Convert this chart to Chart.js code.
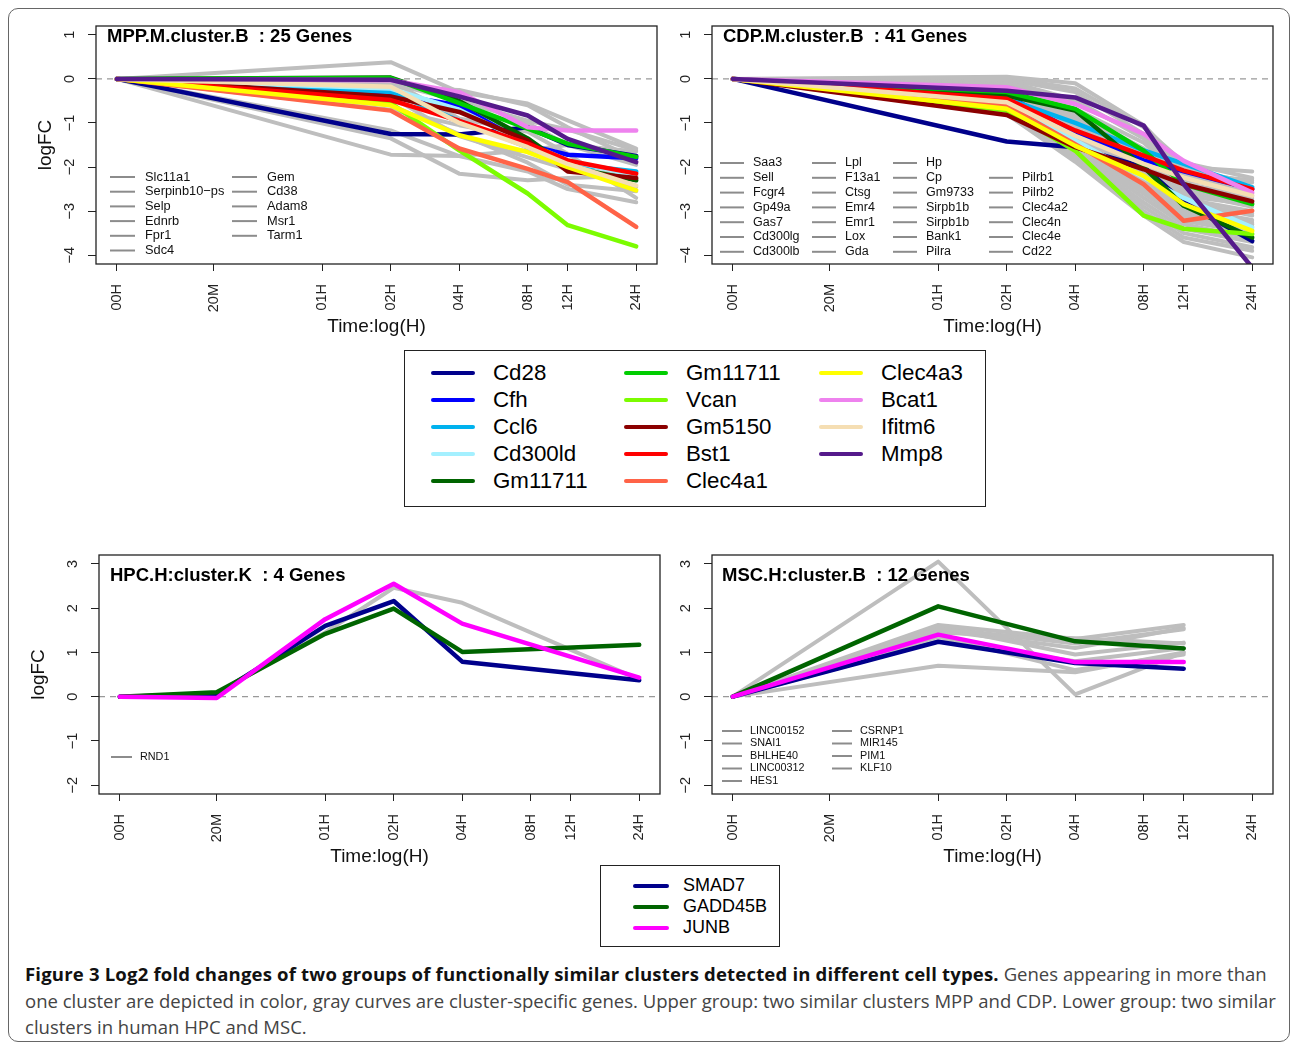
<!DOCTYPE html>
<html>
<head>
<meta charset="utf-8">
<script src="https://cdn.jsdelivr.net/npm/chart.js@4.4.1/dist/chart.umd.min.js"></script>
<style>
  body { margin: 0; background: #fff; width: 1292px; height: 1045px; position: relative; overflow: hidden;
         font-family: "Liberation Sans", Arial, sans-serif; }
  .frame { position: absolute; left: 8px; top: 8px; width: 1280px; height: 1032px; border: 1.5px solid #666; border-radius: 10px; }
  .panel { position: absolute; }
  .key { position: absolute; border: 1.5px solid #222; background: #fff; z-index: 2; }
  .key .item { position: absolute; white-space: nowrap; }
  .key .swatch { position: absolute; border-radius: 2px; }
  .caption { position: absolute; left: 25px; top: 961px; font-family: "Open Sans", sans-serif; font-size: 18.55px;
             line-height: 26.5px; color: #444; white-space: nowrap; }
  .caption b { color: #111; letter-spacing: 0.18px; }
</style>
</head>
<body>
<div class="frame"></div>
<div class="panel" style="left:20px;top:16px;width:647px;height:324px"><canvas id="mpp"></canvas></div>
<div class="panel" style="left:636px;top:16px;width:647px;height:324px"><canvas id="cdp"></canvas></div>
<div class="panel" style="left:23px;top:545px;width:647px;height:325px"><canvas id="hpc"></canvas></div>
<div class="panel" style="left:636px;top:545px;width:647px;height:325px"><canvas id="msc"></canvas></div>
<div class="key" id="mouseKey" style="left:404px;top:350px;width:580px;height:155px"></div>
<div class="key" id="humanKey" style="left:600px;top:865px;width:178px;height:80px"></div>
<div class="caption"><b>Figure 3 Log2 fold changes of two groups of functionally similar clusters detected in different cell types.</b> Genes appearing in more than<br>one cluster are depicted in color, gray curves are cluster-specific genes. Upper group: two similar clusters MPP and CDP. Lower group: two similar<br>clusters in human HPC and MSC.</div>

<script>
// time points (label -> hours, 00H is put at 1/8 h on the log axis)
var hourLabels = ['00H', '20M', '01H', '02H', '04H', '08H', '12H', '24H'];
var hourValues = [0.125, 1 / 3, 1, 2, 4, 8, 12, 24];
var mouseTimes = ['00H', '02H', '04H', '08H', '12H', '24H'];
var hpcTimes = ['00H', '20M', '01H', '02H', '04H', '24H'];
var mscTimes = ['00H', '01H', '04H', '12H'];
var mouseYTicks = [-4, -3, -2, -1, 0, 1];
var humanYTicks = [-2, -1, 0, 1, 2, 3];

// genes shared by the two mouse clusters
var sharedGenes = ['Cd28', 'Cfh', 'Ccl6', 'Cd300ld', 'Gm11711', 'Gm11711', 'Vcan', 'Gm5150', 'Bst1', 'Clec4a1', 'Clec4a3', 'Bcat1', 'Ifitm6', 'Mmp8'];
var mppShared = [
  [0, -1.25, -1.26, -1.1, -1.5, -1.75],
  [0, -0.35, -0.6, -1.5, -1.72, -1.8],
  [0, -0.3, -0.95, -1.55, -1.93, -2.1],
  [0, -0.22, -0.7, -1.47, -1.85, -2.2],
  [0, 0.03, -0.5, -1.35, -2.0, -2.3],
  [0, 0.02, -0.55, -1.13, -1.47, -1.77],
  [0, -0.55, -1.62, -2.6, -3.32, -3.8],
  [0, -0.4, -0.75, -1.4, -2.1, -2.25],
  [0, -0.48, -0.95, -1.47, -1.85, -2.15],
  [0, -0.72, -1.58, -2.04, -2.34, -3.36],
  [0, -0.6, -1.28, -1.66, -2.0, -2.53],
  [0, -0.03, -0.3, -1.1, -1.17, -1.17],
  [0, -0.18, -1.0, -1.55, -1.93, -2.42],
  [0, -0.02, -0.4, -0.83, -1.36, -1.89]
];
var cdpShared = [
  [0, -1.42, -1.55, -2.0, -2.8, -3.68],
  [0, -0.38, -1.2, -1.85, -2.1, -2.5],
  [0, -0.45, -1.0, -1.62, -1.93, -2.46],
  [0, -0.57, -1.4, -2.23, -2.7, -3.37],
  [0, -0.38, -0.72, -2.0, -2.88, -3.6],
  [0, -0.3, -0.68, -1.63, -2.39, -2.84],
  [0, -0.72, -1.63, -3.1, -3.4, -3.52],
  [0, -0.82, -1.55, -2.05, -2.39, -2.78],
  [0, -0.45, -1.17, -1.74, -2.08, -2.5],
  [0, -0.6, -1.48, -2.39, -3.22, -2.99],
  [0, -0.68, -1.52, -2.2, -2.84, -3.45],
  [0, -0.19, -0.57, -1.25, -1.86, -2.58],
  [0, -0.53, -1.29, -1.93, -2.24, -2.65],
  [0, -0.27, -0.42, -1.06, -2.39, -4.28]
];

// cluster specific (gray) genes
var mppGrayGenes = ['Slc11a1', 'Serpinb10\u2212ps', 'Selp', 'Ednrb', 'Fpr1', 'Sdc4', 'Gem', 'Cd38', 'Adam8', 'Msr1', 'Tarm1'];
var mppGray = [
  [0, 0.38, -0.3, -0.56, -0.94, -1.58],
  [0, -1.72, -1.75, -1.62, -1.5, -1.65],
  [0, -1.35, -2.15, -2.3, -2.25, -2.2],
  [0, -1.17, -1.75, -2.1, -2.5, -2.8],
  [0, -0.05, -0.9, -1.2, -1.7, -2.7],
  [0, -0.1, -0.5, -0.95, -1.15, -1.62],
  [0, -0.2, -0.25, -0.6, -1.1, -1.82],
  [0, -0.7, -1.05, -1.35, -1.95, -2.45],
  [0, -0.4, -1.3, -1.78, -2.05, -2.2],
  [0, -0.3, -0.75, -1.0, -1.5, -1.95],
  [0, -0.6, -1.25, -1.9, -2.4, -2.55]
];
var cdpGrayGenes = ['Saa3', 'Sell', 'Fcgr4', 'Gp49a', 'Gas7', 'Cd300lg', 'Cd300lb', 'Lpl', 'F13a1', 'Ctsg', 'Emr4', 'Emr1', 'Lox', 'Gda',
  'Hp', 'Cp', 'Gm9733', 'Sirpb1b', 'Sirpb1b', 'Bank1', 'Pilra', 'Pilrb1', 'Pilrb2', 'Clec4a2', 'Clec4n', 'Clec4e', 'Cd22'];
var cdpGray = [
  [0, 0.05, -0.1, -1.05, -2.0, -2.1],
  [0, 0.02, -0.22, -1.1, -1.9, -2.25],
  [0, -0.02, -0.3, -1.25, -2.05, -2.35],
  [0, -0.05, -0.48, -1.35, -2.15, -2.3],
  [0, -0.08, -0.55, -1.28, -2.2, -2.45],
  [0, -0.12, -0.68, -1.45, -2.25, -2.6],
  [0, -0.15, -0.75, -1.58, -2.3, -2.5],
  [0, -0.16, -0.82, -1.62, -2.42, -2.7],
  [0, -0.2, -0.9, -1.72, -2.38, -2.65],
  [0, -0.22, -0.95, -1.8, -2.5, -2.82],
  [0, -0.25, -1.02, -1.86, -2.55, -2.75],
  [0, -0.28, -1.1, -1.92, -2.58, -2.9],
  [0, -0.3, -1.15, -2.02, -2.66, -2.85],
  [0, -0.33, -1.22, -2.08, -2.72, -3.0],
  [0, -0.36, -1.28, -2.15, -2.78, -3.1],
  [0, -0.4, -1.32, -2.22, -2.85, -3.05],
  [0, -0.43, -1.38, -2.3, -2.92, -3.2],
  [0, -0.46, -1.42, -2.36, -3.0, -3.3],
  [0, -0.5, -1.48, -2.45, -3.08, -3.25],
  [0, -0.53, -1.52, -2.52, -3.15, -3.42],
  [0, -0.57, -1.58, -2.6, -3.22, -3.5],
  [0, -0.6, -1.64, -2.7, -3.3, -3.62],
  [0, -0.65, -1.7, -2.8, -3.4, -3.7],
  [0, -0.7, -1.76, -2.9, -3.5, -3.82],
  [0, -0.75, -1.82, -3.0, -3.6, -3.9],
  [0, -0.8, -1.88, -3.1, -3.7, -4.05],
  [0, -0.62, -1.3, -1.95, -2.6, -3.3]
];

// human clusters
var humanGenes = ['SMAD7', 'GADD45B', 'JUNB'];
var hpcShared = [
  [0, 0.05, 1.6, 2.16, 0.79, 0.37],
  [0, 0.1, 1.42, 1.99, 1.01, 1.17],
  [0, -0.03, 1.75, 2.55, 1.65, 0.43]
];
var hpcGrayGenes = ['RND1'];
var hpcGray = [
  [0, 0.08, 1.45, 2.46, 2.12, 0.39]
];
var mscShared = [
  [0, 1.24, 0.76, 0.63],
  [0, 2.04, 1.25, 1.09],
  [0, 1.4, 0.78, 0.78]
];
var mscGrayGenes = ['LINC00152', 'SNAI1', 'BHLHE40', 'LINC00312', 'HES1', 'CSRNP1', 'MIR145', 'PIM1', 'KLF10'];
var mscGray = [
  [0, 3.05, 0.05, 1.0],
  [0, 0.7, 0.55, 1.0],
  [0, 1.62, 1.3, 1.62],
  [0, 1.55, 1.2, 1.52],
  [0, 1.5, 1.1, 1.55],
  [0, 1.45, 1.32, 1.2],
  [0, 1.58, 0.95, 1.22],
  [0, 1.35, 0.6, 0.95],
  [0, 1.25, 0.8, 1.1]
];

var sharedColors = ['#00008B', '#0000FF', '#00B2EE', '#A4F0FF', '#006400', '#00CD00', '#7CFC00', '#8B0000', '#FF0000', '#FF6347', '#FFFF00', '#EE82EE', '#F5DEB3', '#551A8B'];
var humanColors = ['#00008B', '#006400', '#FF00FF'];
var grayColor = '#BEBEBE';
var FONT = '"Liberation Sans", Arial, sans-serif';

Chart.defaults.font.family = FONT;
Chart.defaults.color = '#111';

function series(times, vals) {
  return times.map(function (t, i) { return { x: hourValues[hourLabels.indexOf(t)], y: vals[i] }; });
}

// R style extended range (4%)
function padRange(lo, hi) { var d = (hi - lo) * 0.04; return [lo - d, hi + d]; }

// dashed zero line, box, panel title and key of the gray genes
var panelDeco = {
  id: 'panelDeco',
  beforeDatasetsDraw: function (chart) {
    var ctx = chart.ctx, a = chart.chartArea, y0 = chart.scales.y.getPixelForValue(0);
    ctx.save();
    ctx.strokeStyle = '#999'; ctx.lineWidth = 1.2; ctx.setLineDash([6, 5]);
    ctx.beginPath(); ctx.moveTo(a.left, y0); ctx.lineTo(a.right, y0); ctx.stroke();
    ctx.restore();
  },
  afterDatasetsDraw: function (chart, args, opts) {
    var ctx = chart.ctx, a = chart.chartArea, k = opts.key;
    ctx.save();
    ctx.strokeStyle = '#222'; ctx.lineWidth = 1.3;
    ctx.strokeRect(a.left, a.top, a.right - a.left, a.bottom - a.top);
    ctx.fillStyle = '#000'; ctx.textBaseline = 'middle';
    ctx.font = 'bold 18.5px ' + FONT;
    ctx.fillText(opts.title, a.left + opts.titleX, a.top + opts.titleY);
    ctx.font = k.size + 'px ' + FONT;
    var start = 0;
    k.rows.forEach(function (n, c) {
      opts.names.slice(start, start + n).forEach(function (name, r) {
        var yy = a.top + k.top + (r + k.skip[c]) * k.step;
        var xx = a.left + k.x[c];
        ctx.strokeStyle = '#8c8c8c'; ctx.lineWidth = 2;
        ctx.beginPath(); ctx.moveTo(xx, yy); ctx.lineTo(xx + k.len, yy); ctx.stroke();
        ctx.fillStyle = '#111';
        ctx.fillText(name, xx + k.gap, yy);
      });
      start += n;
    });
    ctx.restore();
  }
};

function makePanel(id, p) {
  var sets = [];
  p.shared.forEach(function (vals, i) {
    sets.push({ label: p.sharedNames[i], data: series(p.times, vals), borderColor: p.colors[i],
      borderWidth: 4.5, order: p.shared.length - i });
  });
  p.gray.forEach(function (vals, i) {
    sets.push({ label: p.grayNames[i], data: series(p.times, vals), borderColor: grayColor,
      borderWidth: 4, order: 100 + i });
  });
  var xr = padRange(Math.log2(hourValues[0]), Math.log2(hourValues[hourValues.length - 1]));
  var yr = padRange(p.yTicks[0], p.yTicks[p.yTicks.length - 1]);
  return new Chart(document.getElementById(id), {
    type: 'line',
    data: { datasets: sets },
    options: {
      animation: false,
      responsive: true,
      maintainAspectRatio: false,
      layout: { padding: { top: 10, right: 10 } },
      elements: { point: { radius: 0 }, line: { tension: 0, borderCapStyle: 'round', borderJoinStyle: 'round', fill: false } },
      datasets: { line: { clip: 0 } },
      plugins: {
        legend: { display: false },
        tooltip: { enabled: false },
        panelDeco: { title: p.title, titleX: p.titleX, titleY: p.titleY, names: p.grayNames, key: p.key }
      },
      scales: {
        x: {
          type: 'logarithmic',
          min: Math.pow(2, xr[0]), max: Math.pow(2, xr[1]),
          afterBuildTicks: function (s) { s.ticks = hourValues.map(function (v) { return { value: v }; }); },
          afterFit: function (s) { s.height = 76; s.paddingLeft = 0; s.paddingRight = 0; },
          ticks: { autoSkip: false, minRotation: 90, maxRotation: 90, padding: 13, color: '#222', font: { size: 14.5 },
            callback: function (v, i) { return hourLabels[i]; } },
          grid: { drawOnChartArea: false, tickLength: 7, color: '#222', lineWidth: 1 },
          border: { display: false },
          title: { display: true, text: 'Time:log(H)', font: { size: 19 }, color: '#111', padding: { top: 0, bottom: 2 } }
        },
        y: {
          min: yr[0], max: yr[1],
          afterBuildTicks: function (s) { s.ticks = p.yTicks.map(function (v) { return { value: v }; }); },
          afterFit: function (s) { s.width = 76; s.paddingTop = 0; s.paddingBottom = 0; },
          ticks: { minRotation: 90, maxRotation: 90, crossAlign: 'center', padding: 10, color: '#222', font: { size: 14.5 },
            callback: function (v) { return String(v).replace('-', '\u2212'); } },
          grid: { drawOnChartArea: false, tickLength: 8, color: '#222', lineWidth: 1 },
          border: { display: false },
          title: { display: p.yTitle, text: 'logFC', font: { size: 19 }, color: '#111', padding: { top: p.yTitlePad, bottom: 0 } }
        }
      }
    },
    plugins: [panelDeco]
  });
}

makePanel('mpp', {
  title: 'MPP.M.cluster.B  : 25 Genes', titleX: 11, titleY: 11, times: mouseTimes, yTicks: mouseYTicks,
  shared: mppShared, sharedNames: sharedGenes, colors: sharedColors, gray: mppGray, grayNames: mppGrayGenes,
  yTitle: true, yTitlePad: 14,
  key: { size: 12.8, rows: [6, 5], skip: [0, 0], x: [14, 136], len: 25, gap: 35, top: 151, step: 14.7 }
});
makePanel('cdp', {
  title: 'CDP.M.cluster.B  : 41 Genes', titleX: 11, titleY: 11, times: mouseTimes, yTicks: mouseYTicks,
  shared: cdpShared, sharedNames: sharedGenes, colors: sharedColors, gray: cdpGray, grayNames: cdpGrayGenes,
  yTitle: false, yTitlePad: 0,
  key: { size: 12.5, rows: [7, 7, 7, 6], skip: [0, 0, 0, 1], x: [8, 100, 181, 277], len: 24, gap: 33, top: 137, step: 14.8 }
});
makePanel('hpc', {
  title: 'HPC.H:cluster.K  : 4 Genes', titleX: 11, titleY: 21, times: hpcTimes, yTicks: humanYTicks,
  shared: hpcShared, sharedNames: humanGenes, colors: humanColors, gray: hpcGray, grayNames: hpcGrayGenes,
  yTitle: true, yTitlePad: 4,
  key: { size: 10.8, rows: [1], skip: [0], x: [12], len: 21, gap: 29, top: 202, step: 12.5 }
});
makePanel('msc', {
  title: 'MSC.H:cluster.B  : 12 Genes', titleX: 10, titleY: 21, times: mscTimes, yTicks: humanYTicks,
  shared: mscShared, sharedNames: humanGenes, colors: humanColors, gray: mscGray, grayNames: mscGrayGenes,
  yTitle: false, yTitlePad: 0,
  key: { size: 10.8, rows: [5, 4], skip: [0, 0], x: [10, 120], len: 20, gap: 28, top: 176, step: 12.5 }
});

// shared legends (HTML)
function buildKey(elId, names, colors, lay) {
  var box = document.getElementById(elId);
  names.forEach(function (name, i) {
    var c = Math.floor(i / lay.perCol), r = i % lay.perCol;
    var y = lay.top + r * lay.step;
    var sw = document.createElement('div');
    sw.className = 'swatch';
    sw.style.cssText = 'left:' + lay.x[c] + 'px;top:' + (y - 2) + 'px;width:' + lay.len + 'px;height:4px;background:' + colors[i];
    box.appendChild(sw);
    var t = document.createElement('div');
    t.className = 'item';
    t.textContent = name;
    t.style.cssText = 'left:' + (lay.x[c] + lay.gap) + 'px;top:' + (y - lay.size * 0.6) + 'px;font-size:' + lay.size + 'px;line-height:' + (lay.size * 1.2) + 'px';
    box.appendChild(t);
  });
}
buildKey('mouseKey', sharedGenes, sharedColors, { perCol: 5, x: [26, 219, 414], len: 44, gap: 62, top: 22, step: 27, size: 22.3 });
buildKey('humanKey', humanGenes, humanColors, { perCol: 3, x: [32], len: 36, gap: 50, top: 20, step: 21, size: 18 });
</script>
</body>
</html>
